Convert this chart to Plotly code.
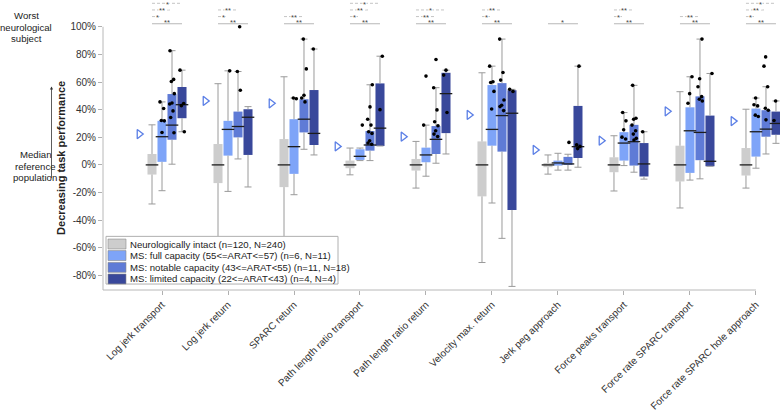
import plotly.graph_objects as go

# ---------------- data ----------------
categories = ["Log jerk transport", "Log jerk return", "SPARC return",
              "Path length ratio transport", "Path length ratio return",
              "Velocity max. return", "Jerk peg approach", "Force peaks transport",
              "Force rate SPARC transport", "Force rate SPARC hole approach"]

group_names = ["Neurologically intact (n=120, N=240)",
               "MS: full capacity (55<=ARAT<=57) (n=6, N=11)",
               "MS: notable capacity (43<=ARAT<55) (n=11, N=18)",
               "MS: limited capacity (22<=ARAT<43) (n=4, N=4)"]

# box statistics (%): lower whisker, q1, median, q3, upper whisker
intact_lo = [-28.3, -70.0, -65.0, -7.2, -16.8, -70.7, -6.7, -18.9, -31.2, -16.8]
intact_q1 = [-7.0, -13.2, -16.1, -2.4, -4.1, -22.8, -1.7, -5.3, -12.0, -7.7]
intact_med = [0, 0, 0, 0, 0, 0, 0, 0, 0, 0]
intact_q3 = [7.9, 15.1, 18.7, 3.1, 4.3, 17.0, 1.4, 5.5, 13.9, 12.2]
intact_hi = [29.0, 58.8, 63.8, 12.2, 17.0, 66.7, 7.2, 21.1, 53.0, 40.3]

full_lo = [-18.7, -19.2, -21.6, 3.1, -8.2, -27.6, -3.8, -0.5, -11.0, -2.4]
full_q1 = [2.2, 6.7, -6.5, 3.6, 1.9, 13.9, -0.5, 3.1, -5.8, 6.0]
full_med = [20.4, 25.7, 13.2, 6.2, 7.2, 25.7, 1.4, 15.8, 24.7, 24.0]
full_q3 = [31.9, 31.9, 33.1, 11.3, 12.5, 57.8, 3.1, 23.7, 41.7, 40.8]
full_hi = [45.6, 68.1, 48.4, 12.2, 28.8, 71.5, 8.4, 37.9, 63.8, 48.4]

notable_lo = [0.5, 4.3, 11.3, 3.1, 1.2, -53.2, -3.8, -5.3, -10.1, 7.9]
notable_q1 = [18.2, 19.9, 23.5, 10.3, 7.9, 9.6, 0.0, -0.5, 3.4, 20.4]
notable_med = [28.8, 27.8, 33.1, 14.4, 18.5, 35.7, 0.7, 16.8, 23.5, 25.9]
notable_q3 = [51.3, 38.6, 47.5, 24.5, 28.1, 59.2, 5.8, 29.0, 49.6, 39.6]
notable_hi = [82.7, 67.6, 91.1, 58.0, 55.9, 91.1, 7.7, 57.6, 91.1, 56.6]

limited_lo = [24.0, -16.0, 7.2, 13.7, 7.9, -88.0, -1.7, -10.3, -1.0, 15.6]
limited_q1 = [33.8, 7.2, 14.4, 13.7, 23.0, -32.6, 5.0, -8.4, -1.0, 21.8]
limited_med = [43.6, 34.5, 22.8, 26.6, 51.6, 37.4, 13.2, 0.7, 2.6, 30.0]
limited_q3 = [56.4, 40.3, 54.2, 59.0, 66.7, 54.0, 42.7, 15.8, 35.7, 38.6]
limited_hi = [68.6, 42.2, 83.9, 78.7, 68.6, 54.7, 71.5, 24.0, 66.2, 46.3]

# individual subject points (%)
full_pts = [[45.6, 40.8, 32.1, 31.9, 23.5], [68.1], [48.4, 47.9], [28.8], [64.3, 28.8],
            [71.5, 60.2, 59.7, 53.2, 40.5], [], [37.9, 31.9, 25.4, 20.1, 18.7],
            [63.8, 51.6, 44.6], [48.4, 43.6, 42.7, 36.0, 35.0]]
notable_pts = [[82.7, 61.9, 60.4, 51.6, 44.8, 44.1, 39.1, 34.3, 23.3], [100.0, 67.6, 54.0],
               [91.1, 69.5, 50.4, 48.4, 45.6], [58.0, 42.0, 33.1, 28.8, 24.0, 22.8, 17.5, 15.8, 14.9],
               [76.3, 55.9, 39.8, 31.2, 28.3, 24.7, 22.3, 20.6],
               [91.1, 66.9, 61.4, 47.0, 43.2, 42.2, 39.3], [16.3],
               [57.6, 33.8, 33.1, 28.8, 24.7, 22.3, 19.2, 18.0],
               [91.1, 62.4, 56.6, 49.4, 47.5, 46.3], [78.2, 71.5, 56.6, 41.0, 39.6, 32.6]]
limited_pts = [[68.6, 44.4, 42.9, 24.0], [], [83.9], [78.7, 40.0], [68.6, 65.0, 37.9],
               [54.7, 53.2], [71.5, 14.6, 13.4, 11.8], [24.0], [66.2], [46.3, 32.1]]

# triangle markers (%)
triangle_vals = [22.3, 46.3, 44.6, 13.4, 20.4, 36.2, 10.8, 17.5, 38.8, 31.7]

# significance labels: intact vs each MS group, and overall
sig_full = ["*", "*", "", "*", "", "*", "", "*", "", "*"]
sig_notable = ["**", "**", "**", "**", "**", "**", "", "**", "**", "**"]
sig_limited = ["*", "", "", "*", "*", "", "", "", "", "*"]
sig_overall = ["**", "**", "**", "**", "**", "**", "*", "**", "**", "**"]

yticks = [-80, -60, -40, -20, 0, 20, 40, 60, 80, 100]

# ---------------- style / layout ----------------
YMIN, YMAX = -90.6, 119.4
XMIN, XMAX = -0.894, 9.364
ML, MT, MB, W, H = 103, 0, 120, 780, 412
PW, PH = W - ML, H - MT - MB

colors = ["#cdcdcd", "#7ea4f8", "#5f7bd6", "#39489b"]
offsets = [-0.1515, 0.0, 0.1515, 0.303]
tri_off = -0.345
bw = 0.137
whisk_col = "#9a9a9a"
font_fam = "Arial, Liberation Sans, Helvetica, sans-serif"


def px_x(p):
    return (p - ML) / PW


def px_y(p):
    return (MT + PH - p) / PH


stats = [
    (intact_lo, intact_q1, intact_med, intact_q3, intact_hi, None),
    (full_lo, full_q1, full_med, full_q3, full_hi, full_pts),
    (notable_lo, notable_q1, notable_med, notable_q3, notable_hi, notable_pts),
    (limited_lo, limited_q1, limited_med, limited_q3, limited_hi, limited_pts),
]

jitter = [-0.03, 0.025, -0.01, 0.035, 0.0, -0.035, 0.015, -0.02, 0.03, -0.005]

fig = go.Figure()
n = len(categories)
for g, (lo, q1, med, q3, hi, pts) in enumerate(stats):
    xs = [i + offsets[g] for i in range(n)]
    fig.add_trace(go.Bar(x=xs, y=[b - a for a, b in zip(q1, q3)], base=q1, width=bw,
                         marker=dict(color=colors[g], line=dict(width=0)),
                         name=group_names[g], showlegend=False, hoverinfo="skip"))
    wx, wy = [], []
    for x, a, b, c, d in zip(xs, lo, q1, q3, hi):
        wx += [x, x, None, x, x, None]
        wy += [a, b, None, c, d, None]
    fig.add_trace(go.Scatter(x=wx, y=wy, mode="lines", line=dict(color=whisk_col, width=1),
                             showlegend=False, hoverinfo="skip"))
    fig.add_trace(go.Scatter(x=xs + xs, y=lo + hi, mode="markers",
                             marker=dict(symbol="line-ew", size=5, line=dict(color=whisk_col, width=1)),
                             showlegend=False, hoverinfo="skip"))
    fig.add_trace(go.Scatter(x=xs, y=med, mode="markers",
                             marker=dict(symbol="line-ew", size=9, line=dict(color="#1c1c1c", width=1.3)),
                             showlegend=False, hoverinfo="skip"))
    if pts:
        px_, py_ = [], []
        for i, plist in enumerate(pts):
            for k, v in enumerate(plist):
                px_.append(i + offsets[g] + jitter[(k + i) % len(jitter)])
                py_.append(v)
        fig.add_trace(go.Scatter(x=px_, y=py_, mode="markers",
                                 marker=dict(color="black", size=3.6),
                                 showlegend=False, hoverinfo="skip"))

fig.add_trace(go.Scatter(x=[i + tri_off for i in range(n)], y=triangle_vals, mode="markers",
                         marker=dict(symbol="triangle-right-open", size=8,
                                     color="#5b7fe6", line=dict(width=1.3, color="#5b7fe6")),
                         showlegend=False, hoverinfo="skip"))

shapes = []
annotations = []

# significance brackets
levels = [107.4, 112.2, 117.0]
for i in range(n):
    rows = []
    for g, lab in ((1, sig_full[i]), (2, sig_notable[i]), (3, sig_limited[i])):
        if lab:
            rows.append((g, lab))
    for lev, (g, lab) in enumerate(rows):
        x0 = i + offsets[0]
        x1 = i + offsets[g]
        yv = levels[lev]
        shapes.append(dict(type="line", xref="x", yref="y", x0=x0, x1=x1, y0=yv, y1=yv,
                           line=dict(color="#b5b5b5", width=0.8, dash="3px,2px")))
        annotations.append(dict(x=(x0 + x1) / 2, y=yv, xref="x", yref="y", text=lab,
                                showarrow=False, font=dict(size=7.5, color="#444", family=font_fam),
                                bgcolor="white", borderpad=0, yshift=-1))
    x0 = i + offsets[0]
    x1 = i + offsets[3]
    shapes.append(dict(type="line", xref="x", yref="y", x0=x0, x1=x1, y0=102.2, y1=102.2,
                       line=dict(color="#a5a5a5", width=0.8)))
    annotations.append(dict(x=(x0 + x1) / 2, y=102.2, xref="x", yref="y", text=sig_overall[i],
                            showarrow=False, font=dict(size=7.5, color="#444", family=font_fam),
                            yshift=1))

# axis lines
shapes.append(dict(type="line", xref="paper", yref="paper", x0=0, x1=0,
                   y0=0, y1=(100 - YMIN) / (YMAX - YMIN), line=dict(color="#b8b8b8", width=1)))
shapes.append(dict(type="line", xref="paper", yref="paper", x0=0,
                   x1=(9 - XMIN) / (XMAX - XMIN), y0=0, y1=0, line=dict(color="#b8b8b8", width=1)))

# legend box
shapes.append(dict(type="rect", xref="paper", yref="paper", x0=px_x(106), x1=px_x(338),
                   y0=px_y(286), y1=px_y(238), fillcolor="white",
                   line=dict(color="#b0b0b0", width=1)))
row_y = [245.7, 257.3, 269.2, 280.9]
for g in range(4):
    shapes.append(dict(type="rect", xref="paper", yref="paper", x0=px_x(108), x1=px_x(126),
                       y0=px_y(row_y[g] + 5), y1=px_y(row_y[g] - 5), fillcolor=colors[g],
                       line=dict(color="#8a8a8a", width=0.6)))
    annotations.append(dict(x=px_x(128), y=px_y(row_y[g]), xref="paper", yref="paper",
                            text=group_names[g], showarrow=False, xanchor="left", yanchor="middle",
                            font=dict(size=9.6, color="#222", family=font_fam)))

# left side texts
for txt, yy in (("Worst", 15.7), ("neurological", 27.3), ("subject", 39.0)):
    annotations.append(dict(x=px_x(26), y=px_y(yy), xref="paper", yref="paper", text=txt,
                            showarrow=False, xanchor="center", yanchor="middle",
                            font=dict(size=9.6, color="#222", family=font_fam)))
for txt, yy in (("Median", 155.7), ("reference", 167.2), ("population", 178.7)):
    annotations.append(dict(x=px_x(35), y=px_y(yy), xref="paper", yref="paper", text=txt,
                            showarrow=False, xanchor="center", yanchor="middle",
                            font=dict(size=9.6, color="#222", family=font_fam)))
annotations.append(dict(x=px_x(51.5), y=px_y(87), xref="paper", yref="paper", text="",
                        showarrow=True, ax=0, ay=93, arrowhead=2, arrowsize=0.8,
                        arrowwidth=0.8, arrowcolor="#333"))
annotations.append(dict(x=px_x(61), y=px_y(159), xref="paper", yref="paper",
                        text="<b>Decreasing task performance</b>", textangle=-90,
                        showarrow=False, xanchor="center", yanchor="middle",
                        font=dict(size=11, color="#222", family=font_fam)))

fig.update_layout(
    width=W, height=H, margin=dict(l=ML, r=0, t=MT, b=MB, pad=0),
    paper_bgcolor="white", plot_bgcolor="white", barmode="overlay", showlegend=False,
    font=dict(family=font_fam, size=10, color="#333"),
    shapes=shapes, annotations=annotations,
    xaxis=dict(range=[XMIN, XMAX], tickvals=list(range(n)), ticktext=categories,
               tickangle=-45, ticks="outside", ticklen=4, tickcolor="#b0b0b0",
               showline=False, showgrid=False, zeroline=False,
               tickfont=dict(size=10, color="#333")),
    yaxis=dict(range=[YMIN, YMAX], tickvals=yticks, ticktext=[f"{v}%" for v in yticks],
               ticks="outside", ticklen=4, tickcolor="#b0b0b0",
               showline=False, showgrid=False, zeroline=False,
               tickfont=dict(size=10, color="#333")),
)

fig.write_html("out.html", config={"displayModeBar": False},
               post_script="document.body.style.margin='0';")
